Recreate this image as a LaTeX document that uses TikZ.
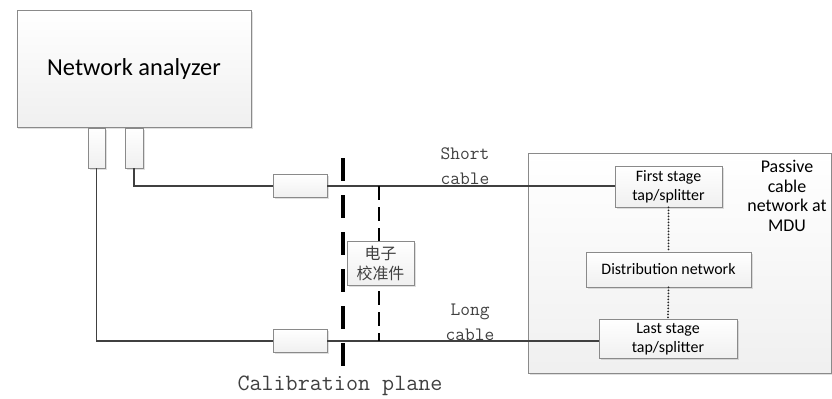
\documentclass[tikz,border=0pt]{standalone}
\usepackage{fontspec}
\setmainfont{Carlito}
\newfontfamily\cjk{Noto Sans CJK SC}
\usetikzlibrary{positioning,calc,shadows}

\definecolor{boxline}{HTML}{8A8A8A}
\definecolor{wire}{HTML}{404040}
\definecolor{labgray}{HTML}{404040}

\begin{document}
\begin{tikzpicture}[x=1bp,y=-1bp,
 box/.style={draw=boxline,line width=0.8bp,top color=white,bottom color=gray!12,
   drop shadow={shadow xshift=1.5bp,shadow yshift=-1.5bp,opacity=0.25},
   inner sep=0pt,align=center},
 cable/.style={draw=wire,line width=1.2bp},
 plane/.style={draw=black,line width=3.5bp,dash pattern=on 23bp off 14bp},
 refline/.style={draw=black,line width=1.6bp,dash pattern=on 14bp off 7bp},
 link/.style={draw=black!85,line width=2bp,line cap=round,dash pattern=on 0bp off 3bp},
 lab/.style={font=\fontsize{19}{25}\selectfont\ttfamily,text=labgray,align=center,inner sep=0pt}]
\useasboundingbox (0,0) rectangle (832,398);
% analyzer and its two ports
\node[box,minimum width=234bp,minimum height=117bp,font=\fontsize{24.5}{28}\selectfont] (na) at (134,68.5) {Network analyzer};
\node[box,minimum width=17bp,minimum height=40bp] (pL) at (96.5,148) {};
\node[box,minimum width=18bp,minimum height=40bp] (pR) at (134,148) {};
% cable connectors
\node[box,minimum width=54bp,minimum height=23bp] (c1) at (300,186) {};
\node[box,minimum width=54bp,minimum height=23bp] (c2) at (300,341) {};
% passive network at MDU
\node[box,minimum width=303bp,minimum height=220bp] (mdu) at (679.5,263) {};
\node[box,minimum width=107bp,minimum height=41bp,font=\fontsize{16}{19}\selectfont] (fs) at (668.5,186.5) {First stage\\tap/splitter};
\node[box,minimum width=165bp,minimum height=35bp,font=\fontsize{16}{19}\selectfont] (dn) at (668.5,269.5) {Distribution network};
\node[box,minimum width=138bp,minimum height=39bp,font=\fontsize{16}{19}\selectfont] (ls) at (668,339) {Last stage\\tap/splitter};
\node[align=center,inner sep=0pt,font=\fontsize{18}{19.5}\selectfont] (mdutxt) at (787,196) {Passive\\cable\\network at\\MDU};
% cables
\draw[cable] (pR.south) |- (c1.west);
\draw[cable] (c1.east) -- (c1.east -| fs.west);
\draw[cable] (pL.south) |- (c2.west);
\draw[cable] (c2.east) -- (c2.east -| ls.west);
\draw[link] (fs.south) -- (dn.north);
\draw[link] (dn.south) -- (ls.north);
% calibration planes
\coordinate (cpt) at (343,158);
\coordinate (cpb) at (343,368);
\coordinate (rft) at (379,186);
\coordinate (rfb) at (379,341);
\draw[plane] (cpt) -- (cpb);
\draw[refline] (rft) -- (rfb);
\node[box,minimum width=67bp,minimum height=44bp,font=\fontsize{16}{20}\selectfont\cjk,text=labgray] (ecal) at (380.5,263) {电子\\校准件};
% labels
\node[lab] (slab) at (465,166) {Short\\cable};
\node[lab] (llab) at (470,322) {Long\\cable};
\node[lab,font=\fontsize{23.5}{25}\selectfont\ttfamily] (cplab) at (340,386) {Calibration plane};
\end{tikzpicture}
\end{document}
